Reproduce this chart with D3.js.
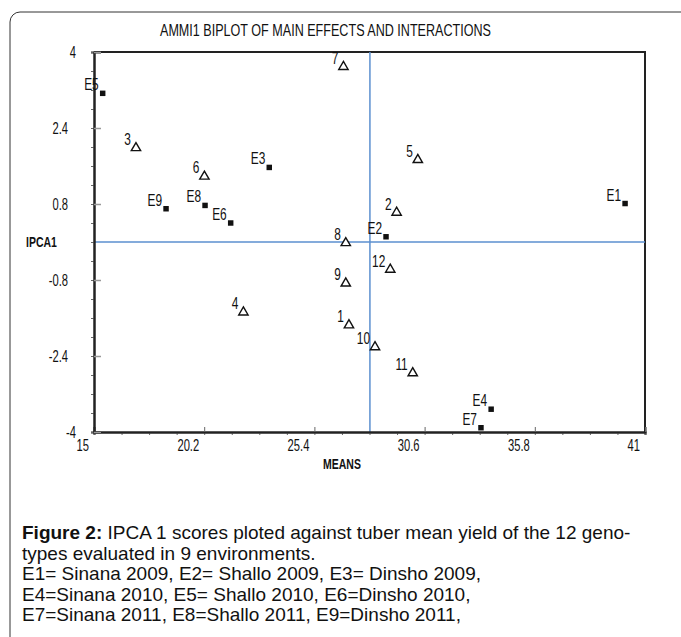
<!DOCTYPE html>
<html>
<head>
<meta charset="utf-8">
<script src="https://cdn.jsdelivr.net/npm/d3@7"></script>
<style>
  body { margin: 0; background: #fff; }
  .narrow { font-family: 'Liberation Sans', Arial, sans-serif; fill: #111; }
  .caption { font-family: 'Liberation Sans', Arial, sans-serif; font-size: 19px; fill: #111; }
</style>
</head>
<body>
<svg id="chart" width="681" height="637"></svg>
<script>
// AMMI1 biplot data
const genotypes = ['1', '2', '3', '4', '5', '6', '7', '8', '9', '10', '11', '12'];
const genoMeans = [27.03, 29.28, 16.98, 22.05, 30.28, 20.21, 26.77, 26.88, 26.88, 28.26, 30.04, 28.98];
const genoIpca = [-1.75, 0.62, 1.98, -1.48, 1.73, 1.38, 3.69, -0.02, -0.87, -2.21, -2.76, -0.58];

const environments = ['E1', 'E2', 'E3', 'E4', 'E5', 'E6', 'E7', 'E8', 'E9'];
const envMeans = [40.06, 28.78, 23.27, 33.74, 15.41, 21.45, 33.26, 20.24, 18.4];
const envIpca = [0.81, 0.11, 1.57, -3.52, 3.13, 0.4, -3.91, 0.77, 0.7];

const grandMean = 28.02;
const xTicks = [15, 20.2, 25.4, 30.6, 35.8, 41];
const yTicks = [4, 2.4, 0.8, -0.8, -2.4, -4];

const captionLines = [
  'types evaluated in 9 environments.',
  'E1= Sinana 2009, E2= Shallo 2009, E3= Dinsho 2009,',
  'E4=Sinana 2010, E5= Shallo 2010, E6=Dinsho 2010,',
  'E7=Sinana 2011, E8=Shallo 2011, E9=Dinsho 2011,',
];

const svg = d3.select('#chart');

// condensed text helper (the figure uses a narrow font)
function narrowText(g, px, py, txt, size, anchor, weight) {
  return g.append('text')
    .attr('class', 'narrow')
    .attr('transform', `translate(${px},${py}) scale(0.7,1)`)
    .attr('text-anchor', anchor || 'start')
    .style('font-size', size + 'px')
    .style('font-weight', weight || 'normal')
    .text(txt);
}

// Outer frame
svg.append('rect')
  .attr('x', 10).attr('y', 12)
  .attr('width', 720).attr('height', 700)
  .attr('rx', 10)
  .attr('fill', 'none')
  .attr('stroke', '#333')
  .attr('stroke-width', 1);

const plot = { left: 94, right: 645, top: 52, bottom: 432 };

const x = d3.scaleLinear().domain([15, 41]).range([plot.left, plot.right]);
const y = d3.scaleLinear().domain([-4, 4]).range([plot.bottom, plot.top]);

// minor ticks
const xMinor = d3.range(0, 21).map((i) => 15 + i * 1.3);
const yMinor = d3.range(0, 21).map((i) => -4 + i * 0.4);

// Title
svg.append('text')
  .attr('class', 'narrow')
  .attr('x', 160).attr('y', 36)
  .attr('textLength', 331)
  .attr('lengthAdjust', 'spacingAndGlyphs')
  .style('font-size', '17px')
  .text('AMMI1 BIPLOT OF MAIN EFFECTS AND INTERACTIONS');

// Top and right border
svg.append('path')
  .attr('d', `M${plot.left},${plot.top}H${plot.right}V${plot.bottom}`)
  .attr('fill', 'none')
  .attr('stroke', '#222')
  .attr('stroke-width', 2);

// Reference lines
svg.append('line')
  .attr('x1', x(15)).attr('x2', x(41))
  .attr('y1', y(0)).attr('y2', y(0))
  .attr('stroke', '#5b8fcf').attr('stroke-width', 1.5);
svg.append('line')
  .attr('x1', x(grandMean)).attr('x2', x(grandMean))
  .attr('y1', y(4)).attr('y2', y(-4))
  .attr('stroke', '#5b8fcf').attr('stroke-width', 1.5);

// X axis: minor ticks below, major ticks inside
const xMinorAxis = svg.append('g')
  .attr('transform', `translate(0,${plot.bottom})`)
  .call(d3.axisBottom(x).tickValues(xMinor).tickSize(3).tickFormat(''));
const xAxis = svg.append('g')
  .attr('transform', `translate(0,${plot.bottom})`)
  .call(d3.axisTop(x).tickValues(xTicks).tickSize(5).tickFormat(''));

// Y axis: minor ticks left, major ticks inside
const yMinorAxis = svg.append('g')
  .attr('transform', `translate(${plot.left},0)`)
  .call(d3.axisLeft(y).tickValues(yMinor).tickSize(3).tickFormat(''));
const yAxis = svg.append('g')
  .attr('transform', `translate(${plot.left},0)`)
  .call(d3.axisRight(y).tickValues(yTicks).tickSize(7).tickFormat(''));

[xMinorAxis, xAxis, yMinorAxis, yAxis].forEach((g) => {
  g.select('.domain').attr('stroke', '#222').attr('stroke-width', 2);
  g.selectAll('.tick line').attr('stroke', '#666').attr('stroke-width', 1);
});
yAxis.selectAll('.tick line').attr('stroke', '#999').attr('stroke-width', 1.5);

// Tick labels
const xLabels = svg.append('g');
xTicks.forEach((d) => {
  narrowText(xLabels, x(d) - 5, plot.bottom + 19, d, 16, 'end');
});
const yLabels = svg.append('g');
yTicks.forEach((d) => {
  narrowText(yLabels, Math.abs(d) === 4 ? 76 : 68, y(d) + 6, d, 16, 'end');
});

// Axis titles
narrowText(svg, 26, y(0) + 5, 'IPCA1', 15, 'start', 'bold');
narrowText(svg, 342, 469, 'MEANS', 15, 'middle', 'bold');

// Genotypes: open triangles
const geno = svg.append('g');
geno.selectAll('path')
  .data(genotypes)
  .enter()
  .append('path')
  .attr('d', d3.symbol().type(d3.symbolTriangle).size(38))
  .attr('transform', (d, i) => `translate(${x(genoMeans[i])},${y(genoIpca[i])})`)
  .attr('fill', '#fff')
  .attr('stroke', '#111')
  .attr('stroke-width', 1.4);
genotypes.forEach((d, i) => {
  narrowText(geno, x(genoMeans[i]) - 5, y(genoIpca[i]) - 3, d, 17, 'end');
});

// Environments: small filled markers
const env = svg.append('g');
env.selectAll('path')
  .data(environments)
  .enter()
  .append('path')
  .attr('d', d3.symbol().type(d3.symbolSquare).size(30))
  .attr('transform', (d, i) => `translate(${x(envMeans[i])},${y(envIpca[i])})`)
  .attr('fill', '#111');
environments.forEach((d, i) => {
  narrowText(env, x(envMeans[i]) - 4, y(envIpca[i]) - 3, d, 17, 'end');
});

// Caption
const cap = svg.append('text').attr('class', 'caption').attr('x', 22).attr('y', 539);
cap.append('tspan').style('font-weight', 'bold').text('Figure 2:');
cap.append('tspan').text(' IPCA 1 scores ploted against tuber mean yield of the 12 geno-');
svg.append('g')
  .selectAll('text')
  .data(captionLines)
  .enter()
  .append('text')
  .attr('class', 'caption')
  .attr('x', 22)
  .attr('y', (d, i) => 539 + (i + 1) * 20.5)
  .text((d) => d);
</script>
</body>
</html>
